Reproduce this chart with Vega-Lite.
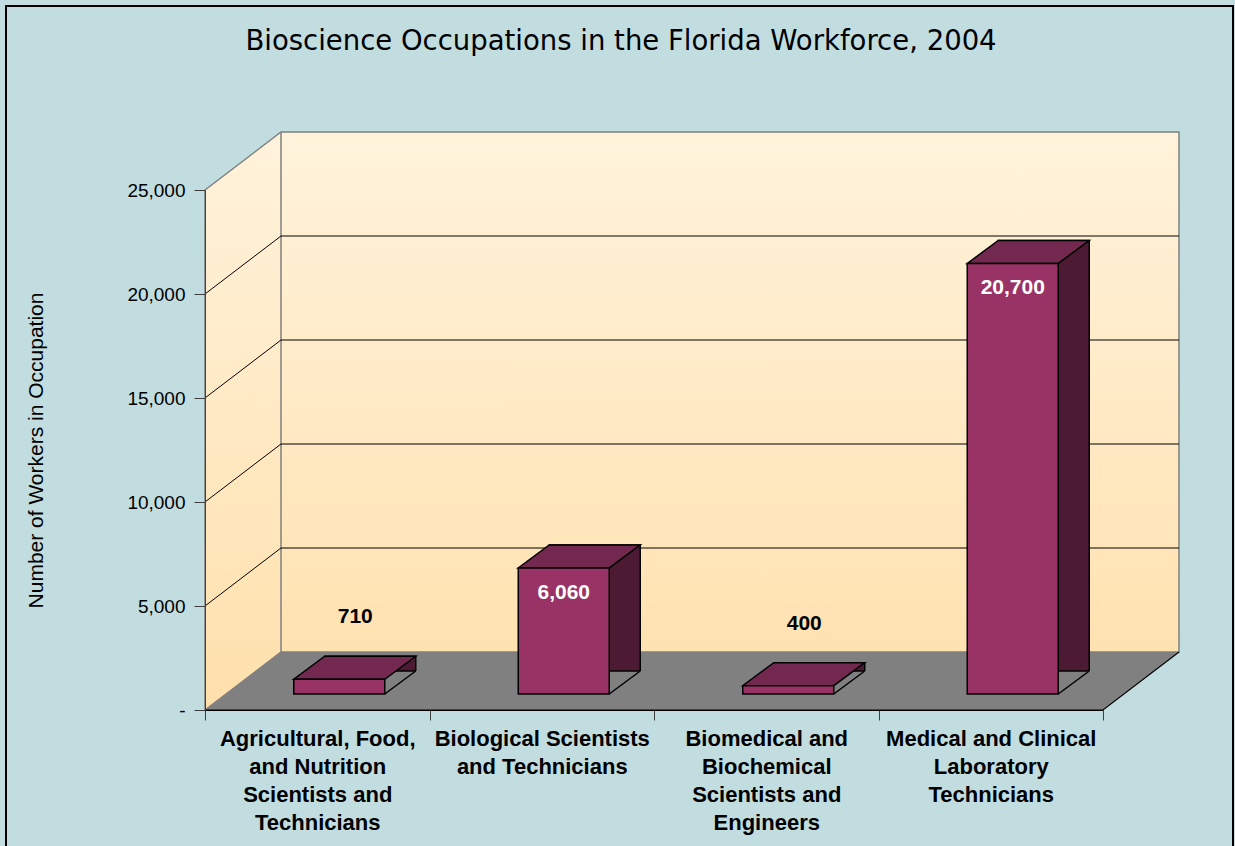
{
  "$schema": "https://vega.github.io/schema/vega-lite/v6.json",
  "width": 898,
  "height": 520,
  "autosize": {"type": "none"},
  "padding": {"left": 205, "top": 190, "right": 132, "bottom": 136},
  "background": "#C2DDE0",
  "config": {
    "view": {"stroke": null},
    "axisX": {
      "tickBand": "extent",
      "labelFont": "Liberation Sans", "labelFontSize": 22, "labelFontWeight": "bold", "labelColor": "#000000",
      "labelLineHeight": 28, "labelAngle": 0, "labelPadding": 8, "labelLimit": 0,
      "labelOverlap": false, "labelBound": false,
      "tickSize": 10, "tickColor": "#404040", "domainColor": "#000000", "grid": false
    },
    "axisY": {
      "labelFont": "Liberation Sans", "labelFontSize": 19, "labelColor": "#000000", "labelPadding": 9,
      "tickSize": 11, "tickColor": "#404040", "domainColor": "#404040", "grid": false,
      "titleFont": "Liberation Sans", "titleFontSize": 21, "titleFontWeight": "normal", "titleColor": "#000000",
      "titlePadding": 80
    }
  },
  "title": {
    "text": "Bioscience Occupations in the Florida Workforce, 2004",
    "font": "DejaVu Sans",
    "fontSize": 27.5,
    "fontWeight": "normal",
    "color": "#000000",
    "anchor": "middle",
    "dx": -33,
    "offset": -53
  },
  "datasets": {
    "bars": [
      {"cat": "Agricultural, Food,\nand Nutrition\nScientists and\nTechnicians", "value": 710},
      {"cat": "Biological Scientists\nand Technicians", "value": 6060},
      {"cat": "Biomedical and\nBiochemical\nScientists and\nEngineers", "value": 400},
      {"cat": "Medical and Clinical\nLaboratory\nTechnicians", "value": 20700}
    ],
    "grid": [{"g": 5000}, {"g": 10000}, {"g": 15000}, {"g": 20000}]
  },
  "layer": [
    {
      "data": {"values": [{}]},
      "mark": {
        "type": "point",
        "shape": "M-648 -184 L579 -184 L579 670 L-648 670 Z",
        "size": 4, "filled": false, "opacity": 1,
        "color": "#000000", "strokeWidth": 2
      },
      "encoding": {
        "y": {"datum": 25000, "type": "quantitative", "scale": {"domain": [0, 25000], "nice": false}}
      }
    },
    {
      "data": {"values": [{}]},
      "mark": {
        "type": "point",
        "shape": "M-449 0 L-373 -58 L525 -58 L525 462 L-373 462 L-449 520 Z M-373 -58 L-373 462",
        "size": 4,
        "filled": true,
        "opacity": 1,
        "fill": {"gradient": "linear", "x1": 0, "y1": 0, "x2": 0, "y2": 1,
                 "stops": [{"offset": 0, "color": "#FFF3DC"}, {"offset": 1, "color": "#FFE0AC"}]},
        "stroke": "#808080",
        "strokeWidth": 1.5
      },
      "encoding": {
        "y": {"datum": 25000, "type": "quantitative", "scale": {"domain": [0, 25000], "nice": false}}
      }
    },
    {
      "data": {"name": "grid"},
      "mark": {"type": "point", "shape": "M-449 0 L-373 -58 L525 -58", "size": 4, "filled": false, "color": "#000000", "strokeWidth": 1, "opacity": 1},
      "encoding": {
        "y": {"field": "g", "type": "quantitative", "scale": {"domain": [0, 25000], "nice": false}}
      }
    },
    {
      "data": {"values": [{}]},
      "mark": {"type": "point", "shape": "M-449 0 L449 0 L525 -58 L-373 -58 Z", "size": 4, "filled": true, "color": "#808080", "opacity": 1},
      "encoding": {
        "y": {"datum": 0, "type": "quantitative", "scale": {"domain": [0, 25000], "nice": false}}
      }
    },
    {
      "data": {"values": [{}]},
      "mark": {"type": "point", "shape": "M-449 0 L449 0 L525 -58", "size": 4, "filled": false, "color": "#000000", "strokeWidth": 1.2, "opacity": 1},
      "encoding": {
        "y": {"datum": 0, "type": "quantitative", "scale": {"domain": [0, 25000], "nice": false}}
      }
    },
    {
      "data": {"name": "bars"},
      "mark": {"type": "bar", "width": 91, "xOffset": 53, "yOffset": -39, "y2Offset": -16, "color": "#4D1A34", "stroke": "#000000", "strokeWidth": 1.5},
      "encoding": {
        "x": {"field": "cat", "type": "nominal", "scale": {"paddingInner": 0, "paddingOuter": 0}},
        "y": {"field": "value", "type": "quantitative", "scale": {"domain": [0, 25000], "nice": false}}
      }
    },
    {
      "data": {"name": "bars"},
      "mark": {"type": "point", "shape": "M45.5 0 L76.5 -23 L80 -23 L80 3 L45.5 3 Z", "size": 4, "filled": true, "color": "#808080", "opacity": 1, "xOffset": 22, "yOffset": -16},
      "encoding": {
        "x": {"field": "cat", "type": "nominal", "scale": {"paddingInner": 0, "paddingOuter": 0}},
        "y": {"datum": 0, "type": "quantitative", "scale": {"domain": [0, 25000], "nice": false}}
      }
    },
    {
      "data": {"name": "bars"},
      "mark": {"type": "point", "shape": "M45.5 0 L76.5 -23", "size": 4, "filled": false, "color": "#000000", "strokeWidth": 1.5, "opacity": 1, "xOffset": 22, "yOffset": -16},
      "encoding": {
        "x": {"field": "cat", "type": "nominal", "scale": {"paddingInner": 0, "paddingOuter": 0}},
        "y": {"datum": 0, "type": "quantitative", "scale": {"domain": [0, 25000], "nice": false}}
      }
    },
    {
      "data": {"name": "bars"},
      "mark": {"type": "point", "shape": "M-45.5 0 L45.5 0 L76.5 -23 L-14.5 -23 Z", "size": 4, "filled": true, "fill": "#732850", "stroke": "#000000", "strokeWidth": 1.5, "opacity": 1, "xOffset": 22, "yOffset": -16},
      "encoding": {
        "x": {"field": "cat", "type": "nominal", "scale": {"paddingInner": 0, "paddingOuter": 0}},
        "y": {"field": "value", "type": "quantitative", "scale": {"domain": [0, 25000], "nice": false}}
      }
    },
    {
      "data": {"name": "bars"},
      "mark": {"type": "bar", "width": 91, "xOffset": 22, "yOffset": -16, "y2Offset": -16, "color": "#993366", "stroke": "#000000", "strokeWidth": 1.5},
      "encoding": {
        "x": {
          "field": "cat", "type": "nominal", "scale": {"paddingInner": 0, "paddingOuter": 0},
          "axis": {"title": null, "zindex": 1, "labelExpr": "split(datum.label, '\\n')"}
        },
        "y": {
          "field": "value", "type": "quantitative", "scale": {"domain": [0, 25000], "nice": false},
          "axis": {
            "title": "Number of Workers in Occupation", "zindex": 1, "values": [0, 5000, 10000, 15000, 20000, 25000],
            "labelExpr": "datum.value == 0 ? '-' : format(datum.value, ',')"
          }
        }
      }
    },
    {
      "data": {"name": "bars"},
      "transform": [{"filter": "datum.value < 2000"}],
      "mark": {"type": "text", "font": "Liberation Sans", "fontSize": 21, "fontWeight": "bold", "color": "#000000", "baseline": "middle", "align": "center", "xOffset": 38, "yOffset": -78},
      "encoding": {
        "x": {"field": "cat", "type": "nominal", "scale": {"paddingInner": 0, "paddingOuter": 0}},
        "y": {"field": "value", "type": "quantitative", "scale": {"domain": [0, 25000], "nice": false}},
        "text": {"field": "value", "type": "quantitative", "format": ","}
      }
    },
    {
      "data": {"name": "bars"},
      "transform": [{"filter": "datum.value >= 2000"}],
      "mark": {"type": "text", "font": "Liberation Sans", "fontSize": 21, "fontWeight": "bold", "color": "#FFFFFF", "baseline": "middle", "align": "center", "xOffset": 22, "yOffset": 9},
      "encoding": {
        "x": {"field": "cat", "type": "nominal", "scale": {"paddingInner": 0, "paddingOuter": 0}},
        "y": {"field": "value", "type": "quantitative", "scale": {"domain": [0, 25000], "nice": false}},
        "text": {"field": "value", "type": "quantitative", "format": ","}
      }
    }
  ]
}
